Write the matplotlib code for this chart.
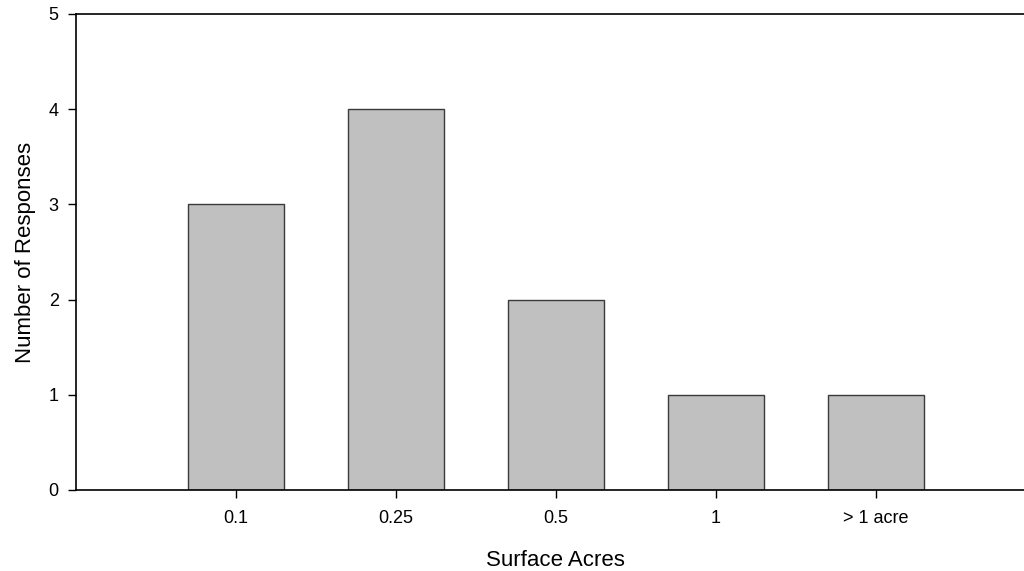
import matplotlib
matplotlib.use("Agg")
import matplotlib.pyplot as plt

categories = ["0.1", "0.25", "0.5", "1", "> 1 acre"]
responses = [3, 4, 2, 1, 1]
y_ticks = [0, 1, 2, 3, 4, 5]

plt.rcParams['font.family'] = ['Liberation Sans', 'DejaVu Sans']

fig = plt.figure(figsize=(10.24, 5.71), dpi=100)
ax = fig.add_axes([76/1024, 1-490/571, 1-76/1024, (490-14)/571])

x = list(range(len(categories)))
ax.bar(x, responses, width=0.6, color="#c0c0c0", edgecolor="#3a3a3a", linewidth=1.0, zorder=2)

ax.set_xlim(-1.0, 4.925)
ax.set_ylim(0, 5)
ax.set_xticks(x)
ax.set_xticklabels(categories, fontsize=13)
ax.set_yticks(y_ticks)
ax.set_yticklabels([str(t) for t in y_ticks], fontsize=13)

ax.spines['right'].set_visible(False)
for s in ['left', 'top', 'bottom']:
    ax.spines[s].set_linewidth(1.2)
    ax.spines[s].set_color('black')

ax.tick_params(axis='y', direction='out', length=6, width=1.0, pad=6.5)
ax.tick_params(axis='x', direction='out', length=6, width=1.0, pad=8.5)

ax.set_xlabel("Surface Acres", fontsize=16, labelpad=16.5, x=0.506)
ax.set_ylabel("Number of Responses", fontsize=16, labelpad=9)

fig.savefig("out.png", dpi=100)
